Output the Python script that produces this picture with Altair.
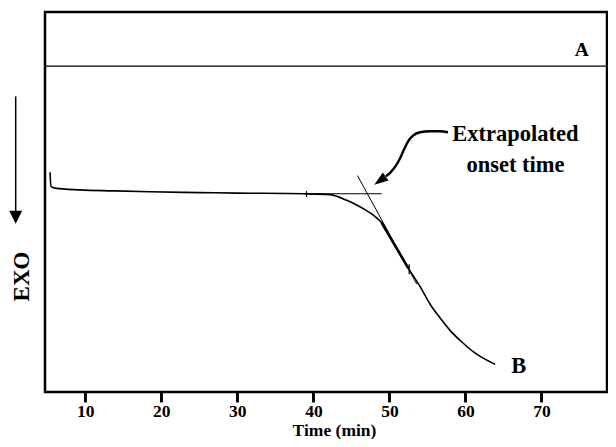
import altair as alt
import pandas as pd

# ---- data ----
# curve B (time in min, signal in arbitrary units, 0 = bottom of frame, 100 = top)
curve_t = [5.36, 5.49, 6.0, 9.3, 13.6, 18.5, 25.0, 30.0, 38.8, 42.18, 43.3, 44.38, 45.5,
           46.56, 47.88, 48.98, 50.51, 52.5, 54.0, 55.35, 56.7, 58.0, 59.6, 61.1, 62.5, 63.9]
curve_v = [57.81, 54.09, 53.65, 53.20, 52.94, 52.68, 52.47, 52.34, 52.16, 51.95, 51.35, 50.44, 49.43,
           48.26, 46.54, 44.53, 39.32, 32.55, 27.86, 23.10, 19.40, 16.15, 13.02, 10.49, 8.72, 7.29]

# line A
line_a_t = [4.7, 78.62]
line_a_v = [85.76, 85.76]

# tangents
tan_h_t = [38.8, 49.0]
tan_h_v = [52.16, 52.16]
tan_s_t = [45.8, 53.6]
tan_s_v = [56.95, 28.39]

# small tick marks on the trace
tick_t = [39.1, 52.6]
tick_v1 = [52.86, 33.6]
tick_v2 = [51.30, 31.0]

# curved annotation arrow
arr_t = [57.71, 56.65, 55.34, 54.02, 53.10, 52.44, 51.92, 51.39, 50.87, 50.21, 49.55]
arr_v = [68.36, 68.62, 68.62, 68.36, 67.45, 65.89, 63.80, 61.46, 59.64, 57.94, 56.77]
arr_head_t = [48.76]
arr_head_v = [55.65]

# EXO arrow (left of the frame)
exo_t = [0.846, 0.846]
exo_v = [77.79, 47.58]
exo_head_t = [0.846]
exo_head_v = [45.96]

# text labels
lab_text = ["Extrapolated", "onset time", "B"]
lab_t = [66.58, 66.58, 67.02]
lab_v = [66.07, 57.81, 4.95]
a_text = ["A"]
a_t = [75.29]
a_v = [88.36]

x_ticks = [10, 20, 30, 40, 50, 60, 70]
x_tick_top = [0.0] * len(x_ticks)
x_tick_bottom = [-2.63] * len(x_ticks)

FONT = "Liberation Serif"

xs = alt.Scale(domain=[4.7, 78.62], nice=False, zero=False)
ys = alt.Scale(domain=[0, 100], nice=False, zero=False)

x_axis = alt.Axis(values=x_ticks, title="Time (min)", grid=False, domain=False,
                  ticks=True, tickColor="#000000", tickOpacity=1, tickWidth=2.6, tickSize=10,
                  labelFont=FONT, labelFontWeight="bold", labelFontSize=17.5, labelColor="black",
                  labelBaseline="alphabetic", labelPadding=14,
                  titleFont=FONT, titleFontWeight="bold", titleFontSize=17.5, titleColor="black",
                  titleX=289, titleY=43.5, titleBaseline="alphabetic", titleAlign="center")
y_axis = alt.Axis(title="EXO", labels=False, ticks=False, domain=False, grid=False,
                  titleFont=FONT, titleFontWeight="bold", titleFontSize=23, titleColor="black",
                  titleAngle=270, titleX=-24, titleY=264, titleAlign="center", titleBaseline="middle")


def X(field="t"):
    return alt.X(f"{field}:Q", scale=xs, axis=x_axis)


def Y(field="v"):
    return alt.Y(f"{field}:Q", scale=ys, axis=y_axis)


curve = pd.DataFrame({"t": curve_t, "v": curve_v})
curve_layer = alt.Chart(curve).mark_line(color="black", strokeWidth=1.6, interpolate="monotone").encode(x=X(), y=Y())
bold_layer = alt.Chart(curve).transform_filter("datum.t >= 48.9 && datum.t <= 52.6").mark_line(
    color="black", strokeWidth=2.6, interpolate="monotone").encode(x=X(), y=Y())

line_a = alt.Chart(pd.DataFrame({"t": line_a_t, "v": line_a_v})).mark_line(color="black", strokeWidth=1.4).encode(x=X(), y=Y())
tan_h = alt.Chart(pd.DataFrame({"t": tan_h_t, "v": tan_h_v})).mark_line(color="black", strokeWidth=1.1).encode(x=X(), y=Y())
tan_s = alt.Chart(pd.DataFrame({"t": tan_s_t, "v": tan_s_v})).mark_line(color="black", strokeWidth=1.0).encode(x=X(), y=Y())

ticks = alt.Chart(pd.DataFrame({"t": tick_t, "v": tick_v1, "v2": tick_v2})).mark_rule(
    color="black", strokeWidth=1.2).encode(x=X(), y=Y(), y2="v2:Q")

axis_ticks = alt.Chart(pd.DataFrame({"t": x_ticks, "v": x_tick_top, "v2": x_tick_bottom})).mark_rule(
    color="#000000", strokeWidth=2.6).encode(x=X(), y=Y(), y2="v2:Q")

arrow = alt.Chart(pd.DataFrame({"t": arr_t, "v": arr_v})).mark_line(
    color="black", strokeWidth=2.4, interpolate="monotone").encode(x=X(), y=Y())
arrow_head = alt.Chart(pd.DataFrame({"t": arr_head_t, "v": arr_head_v})).mark_point(
    shape="M0,-1L0.7,1L-0.7,1Z", filled=True, color="black", opacity=1, size=196, angle=234).encode(x=X(), y=Y())

exo = alt.Chart(pd.DataFrame({"t": exo_t, "v": exo_v})).mark_line(color="black", strokeWidth=1.5).encode(x=X(), y=Y())
exo_head = alt.Chart(pd.DataFrame({"t": exo_head_t, "v": exo_head_v})).mark_point(
    shape="M-1,-1L1,-1L0,1Z", filled=True, color="black", opacity=1, size=169).encode(x=X(), y=Y())

labels = alt.Chart(pd.DataFrame({"t": lab_t, "v": lab_v, "label": lab_text})).mark_text(
    font=FONT, fontWeight="bold", fontSize=22.5, color="black", align="center", baseline="alphabetic").encode(
    x=X(), y=Y(), text="label:N")
a_label = alt.Chart(pd.DataFrame({"t": a_t, "v": a_v, "label": a_text})).mark_text(
    font=FONT, fontWeight="bold", fontSize=19.5, color="black", align="center", baseline="alphabetic").encode(
    x=X(), y=Y(), text="label:N")

chart = alt.layer(line_a, curve_layer, tan_h, tan_s, bold_layer, ticks, axis_ticks, arrow, arrow_head,
                  exo, exo_head, labels, a_label).properties(
    width=562, height=380,
    autosize=alt.AutoSizeParams(type="none"),
    padding={"left": 37, "top": 4, "right": 1, "bottom": 47},
    background="white",
).configure_view(stroke="black", strokeWidth=2.5)

chart.save("out.html", embed_options={"renderer": "svg", "actions": False})
